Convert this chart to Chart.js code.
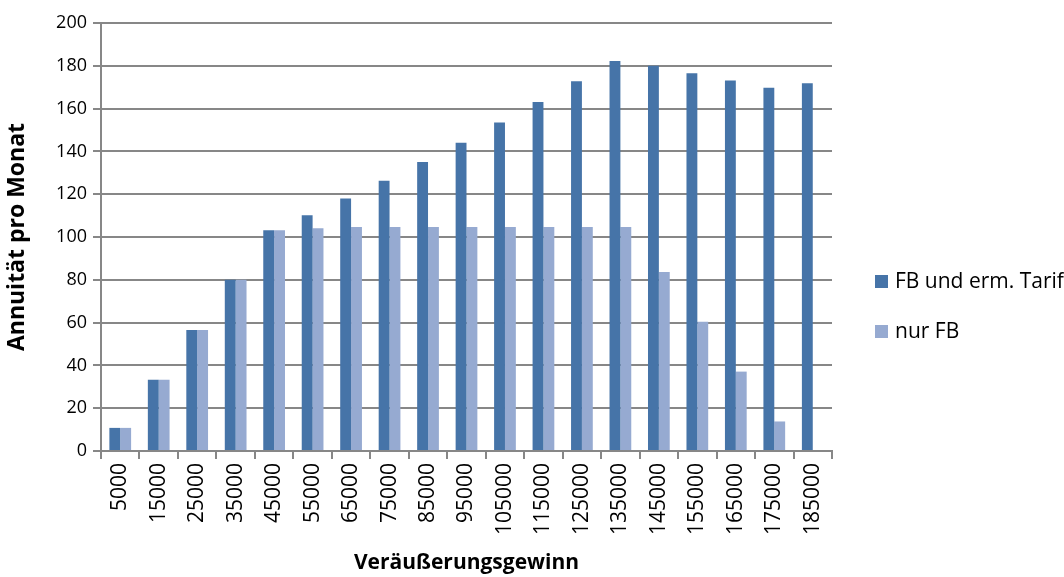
<!DOCTYPE html>
<html>
<head>
<meta charset="utf-8">
<script src="https://cdn.jsdelivr.net/npm/chart.js@4/dist/chart.umd.min.js"></script>
<style>
  html, body { margin: 0; padding: 0; background: #fff; }
  #wrap { width: 1064px; height: 577px; }
</style>
</head>
<body>
<div id="wrap"><canvas id="chart" width="1064" height="577"></canvas></div>
<script>
// Veräußerungsgewinn categories and monthly annuity per variant
const gewinne = ['5000', '15000', '25000', '35000', '45000', '55000', '65000', '75000', '85000', '95000',
  '105000', '115000', '125000', '135000', '145000', '155000', '165000', '175000', '185000'];
const fbUndErmTarif = [10.8, 33.3, 56.5, 80.0, 103.1, 110.2, 118.0, 126.3, 135.1, 144.1,
  153.5, 163.1, 172.8, 182.3, 180.0, 176.5, 173.1, 169.8, 171.8];
const nurFb = [10.8, 33.3, 56.5, 80.0, 103.1, 104.1, 104.7, 104.7, 104.7, 104.7,
  104.7, 104.7, 104.7, 104.7, 83.7, 60.4, 37.1, 13.8, 0];
const yTicks = [0, 20, 40, 60, 80, 100, 120, 140, 160, 180, 200];

const FONT = "'Open Sans', sans-serif";
const GRID = '#878787';

// simple legend on the right, drawn from the dataset labels/colours
const sideLegend = {
  id: 'sideLegend',
  afterDraw(chart) {
    const ctx = chart.ctx;
    ctx.save();
    ctx.font = '21px ' + FONT;
    ctx.textBaseline = 'middle';
    chart.data.datasets.forEach((ds, i) => {
      const y = 282 + i * 50;
      ctx.fillStyle = ds.backgroundColor;
      ctx.fillRect(875, y - 7, 13, 13);
      ctx.fillStyle = '#000';
      ctx.fillText(ds.label, 895, y);
    });
    ctx.restore();
  }
};

new Chart(document.getElementById('chart'), {
  type: 'bar',
  data: {
    labels: gewinne,
    datasets: [
      { label: 'FB und erm. Tarif', data: fbUndErmTarif, backgroundColor: '#4674A8' },
      { label: 'nur FB', data: nurFb, backgroundColor: '#96AAD1' }
    ]
  },
  options: {
    responsive: false,
    animation: false,
    layout: { padding: { top: 23, right: 232, left: 0, bottom: 0 } },
    datasets: { bar: { categoryPercentage: 0.565, barPercentage: 1.0 } },
    plugins: {
      legend: { display: false },
      tooltip: { enabled: false }
    },
    scales: {
      x: {
        afterFit: s => { s.height = 126; },
        border: { color: GRID, width: 2 },
        grid: { display: true, drawOnChartArea: false, offset: true, color: GRID, lineWidth: 2, tickLength: 8 },
        ticks: { color: '#000', font: { family: FONT, size: 21 }, minRotation: 90, maxRotation: 90, padding: 4, autoSkip: false },
        title: { display: true, text: 'Veräußerungsgewinn', color: '#000', font: { family: FONT, size: 21, weight: 'bold' }, padding: { top: 0, bottom: 1 } }
      },
      y: {
        min: 0,
        max: 200,
        afterFit: s => { s.width = 101; },
        afterBuildTicks: s => { s.ticks = yTicks.map(v => ({ value: v })); },
        border: { color: GRID, width: 2 },
        grid: { color: GRID, lineWidth: 2, tickLength: 8 },
        ticks: { color: '#000', font: { family: FONT, size: 18 }, padding: 6 },
        title: { display: true, text: 'Annuität pro Monat', color: '#000', font: { family: FONT, size: 23, weight: 'bold' }, padding: { top: 4, bottom: 0 } }
      }
    }
  },
  plugins: [sideLegend]
});
</script>
</body>
</html>
